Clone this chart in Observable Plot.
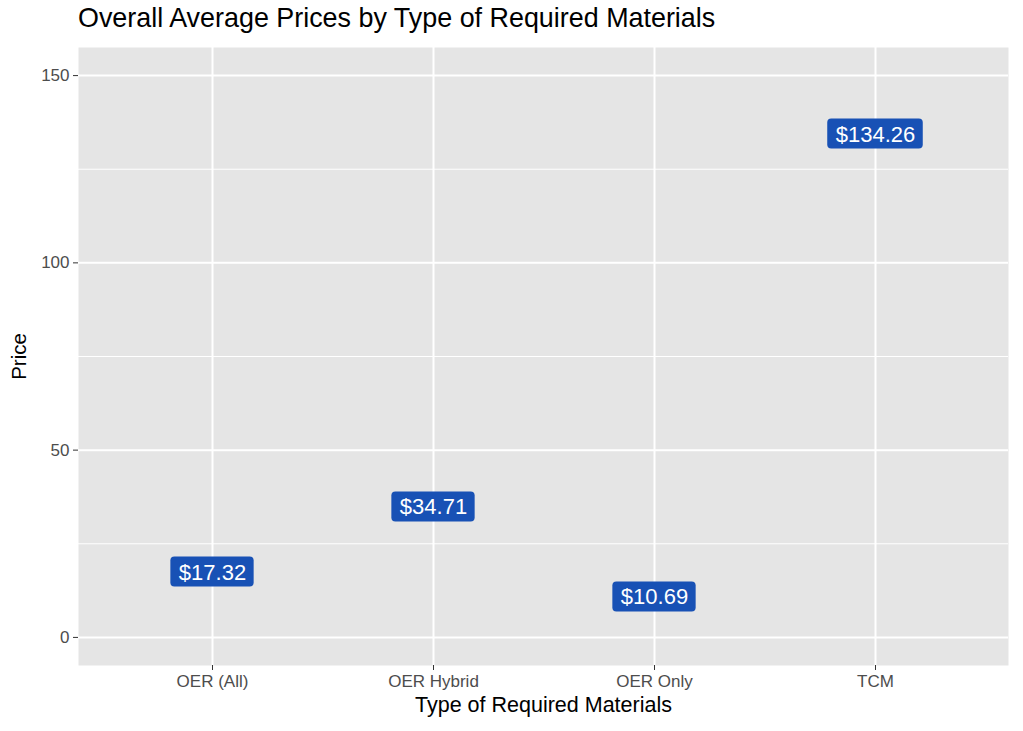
<!DOCTYPE html>
<html>
<head>
<meta charset="utf-8">
<script src="https://cdn.jsdelivr.net/npm/d3@7"></script>
<script src="https://cdn.jsdelivr.net/npm/@observablehq/plot@0.6"></script>
<style>
  body { margin: 0; background: #fff; font-family: "Liberation Sans", Arial, Helvetica, sans-serif; }
  #wrap { position: relative; width: 1023px; height: 731px; }
  #title { position: absolute; left: 78px; top: 3px; font-size: 26.9px; color: #000; white-space: nowrap; }
  #chart { position: absolute; left: 0; top: 47px; }
</style>
</head>
<body>
<div id="wrap">
  <div id="title">Overall Average Prices by Type of Required Materials</div>
  <div id="chart"></div>
</div>
<script>
const categories = ["OER (All)", "OER Hybrid", "OER Only", "TCM"];
const prices = [17.32, 34.71, 10.69, 134.26];
const majorTicks = [0, 50, 100, 150];
const minorTicks = [25, 75, 125];

const data = categories.map((c, i) => ({type: c, price: prices[i], label: "$" + prices[i].toFixed(2)}));

const labelFill = "#1851b5";

const plot = Plot.plot({
  width: 1023,
  height: 684,
  marginTop: 0,
  marginLeft: 78,
  marginRight: 15,
  marginBottom: 66,
  style: {fontFamily: '"Liberation Sans", Arial, Helvetica, sans-serif', background: "transparent"},
  x: {type: "point", domain: categories, padding: 0.6, align: 0.5},
  y: {domain: [-7.5, 157.5]},
  marks: [
    Plot.frame({fill: "#e5e5e5", stroke: null}),
    Plot.gridY(minorTicks, {stroke: "white", strokeOpacity: 1, strokeWidth: 1}),
    Plot.gridY(majorTicks, {stroke: "white", strokeOpacity: 1, strokeWidth: 2}),
    Plot.gridX(categories, {stroke: "white", strokeOpacity: 1, strokeWidth: 2}),
    Plot.axisY(majorTicks, {tickSize: 5, tickPadding: 4, fontSize: 17, color: "#4d4d4d", stroke: "#333", label: null}),
    Plot.axisX(categories, {tickSize: 5, tickPadding: 4, fontSize: 17, color: "#4d4d4d", stroke: "#333", label: null}),
    Plot.text(["Price"], {frameAnchor: "left", textAnchor: "middle", rotate: -90, dx: -59, fontSize: 20.5, fill: "#000"}),
    Plot.text(["Type of Required Materials"], {frameAnchor: "bottom", textAnchor: "middle", dy: 46, fontSize: 21.5, fill: "#000"}),
    Plot.text(data, {x: "type", y: "price", text: "label", fill: "white", fontSize: 22, className: "pricelabel"})
  ]
});

document.getElementById("chart").appendChild(plot);

// draw rounded label boxes behind the text marks
const g = plot.querySelector("g.pricelabel") || [...plot.querySelectorAll("g")].find(el => el.getAttribute("class") && el.getAttribute("class").includes("pricelabel"));
if (g) {
  const ns = "http://www.w3.org/2000/svg";
  const boxes = document.createElementNS(ns, "g");
  g.querySelectorAll("text").forEach(t => {
    const b = t.getBBox();
    const ctm = t.transform && t.transform.baseVal.consolidate();
    let dx = 0, dy = 0;
    if (ctm) { dx = ctm.matrix.e; dy = ctm.matrix.f; }
    const cy = b.y + b.height / 2 + dy;
    const r = document.createElementNS(ns, "rect");
    r.setAttribute("x", b.x + dx - 8);
    r.setAttribute("width", b.width + 16);
    r.setAttribute("y", cy - 15);
    r.setAttribute("height", 30);
    r.setAttribute("rx", 4);
    r.setAttribute("fill", labelFill);
    boxes.appendChild(r);
  });
  g.parentNode.insertBefore(boxes, g);
}
</script>
</body>
</html>
